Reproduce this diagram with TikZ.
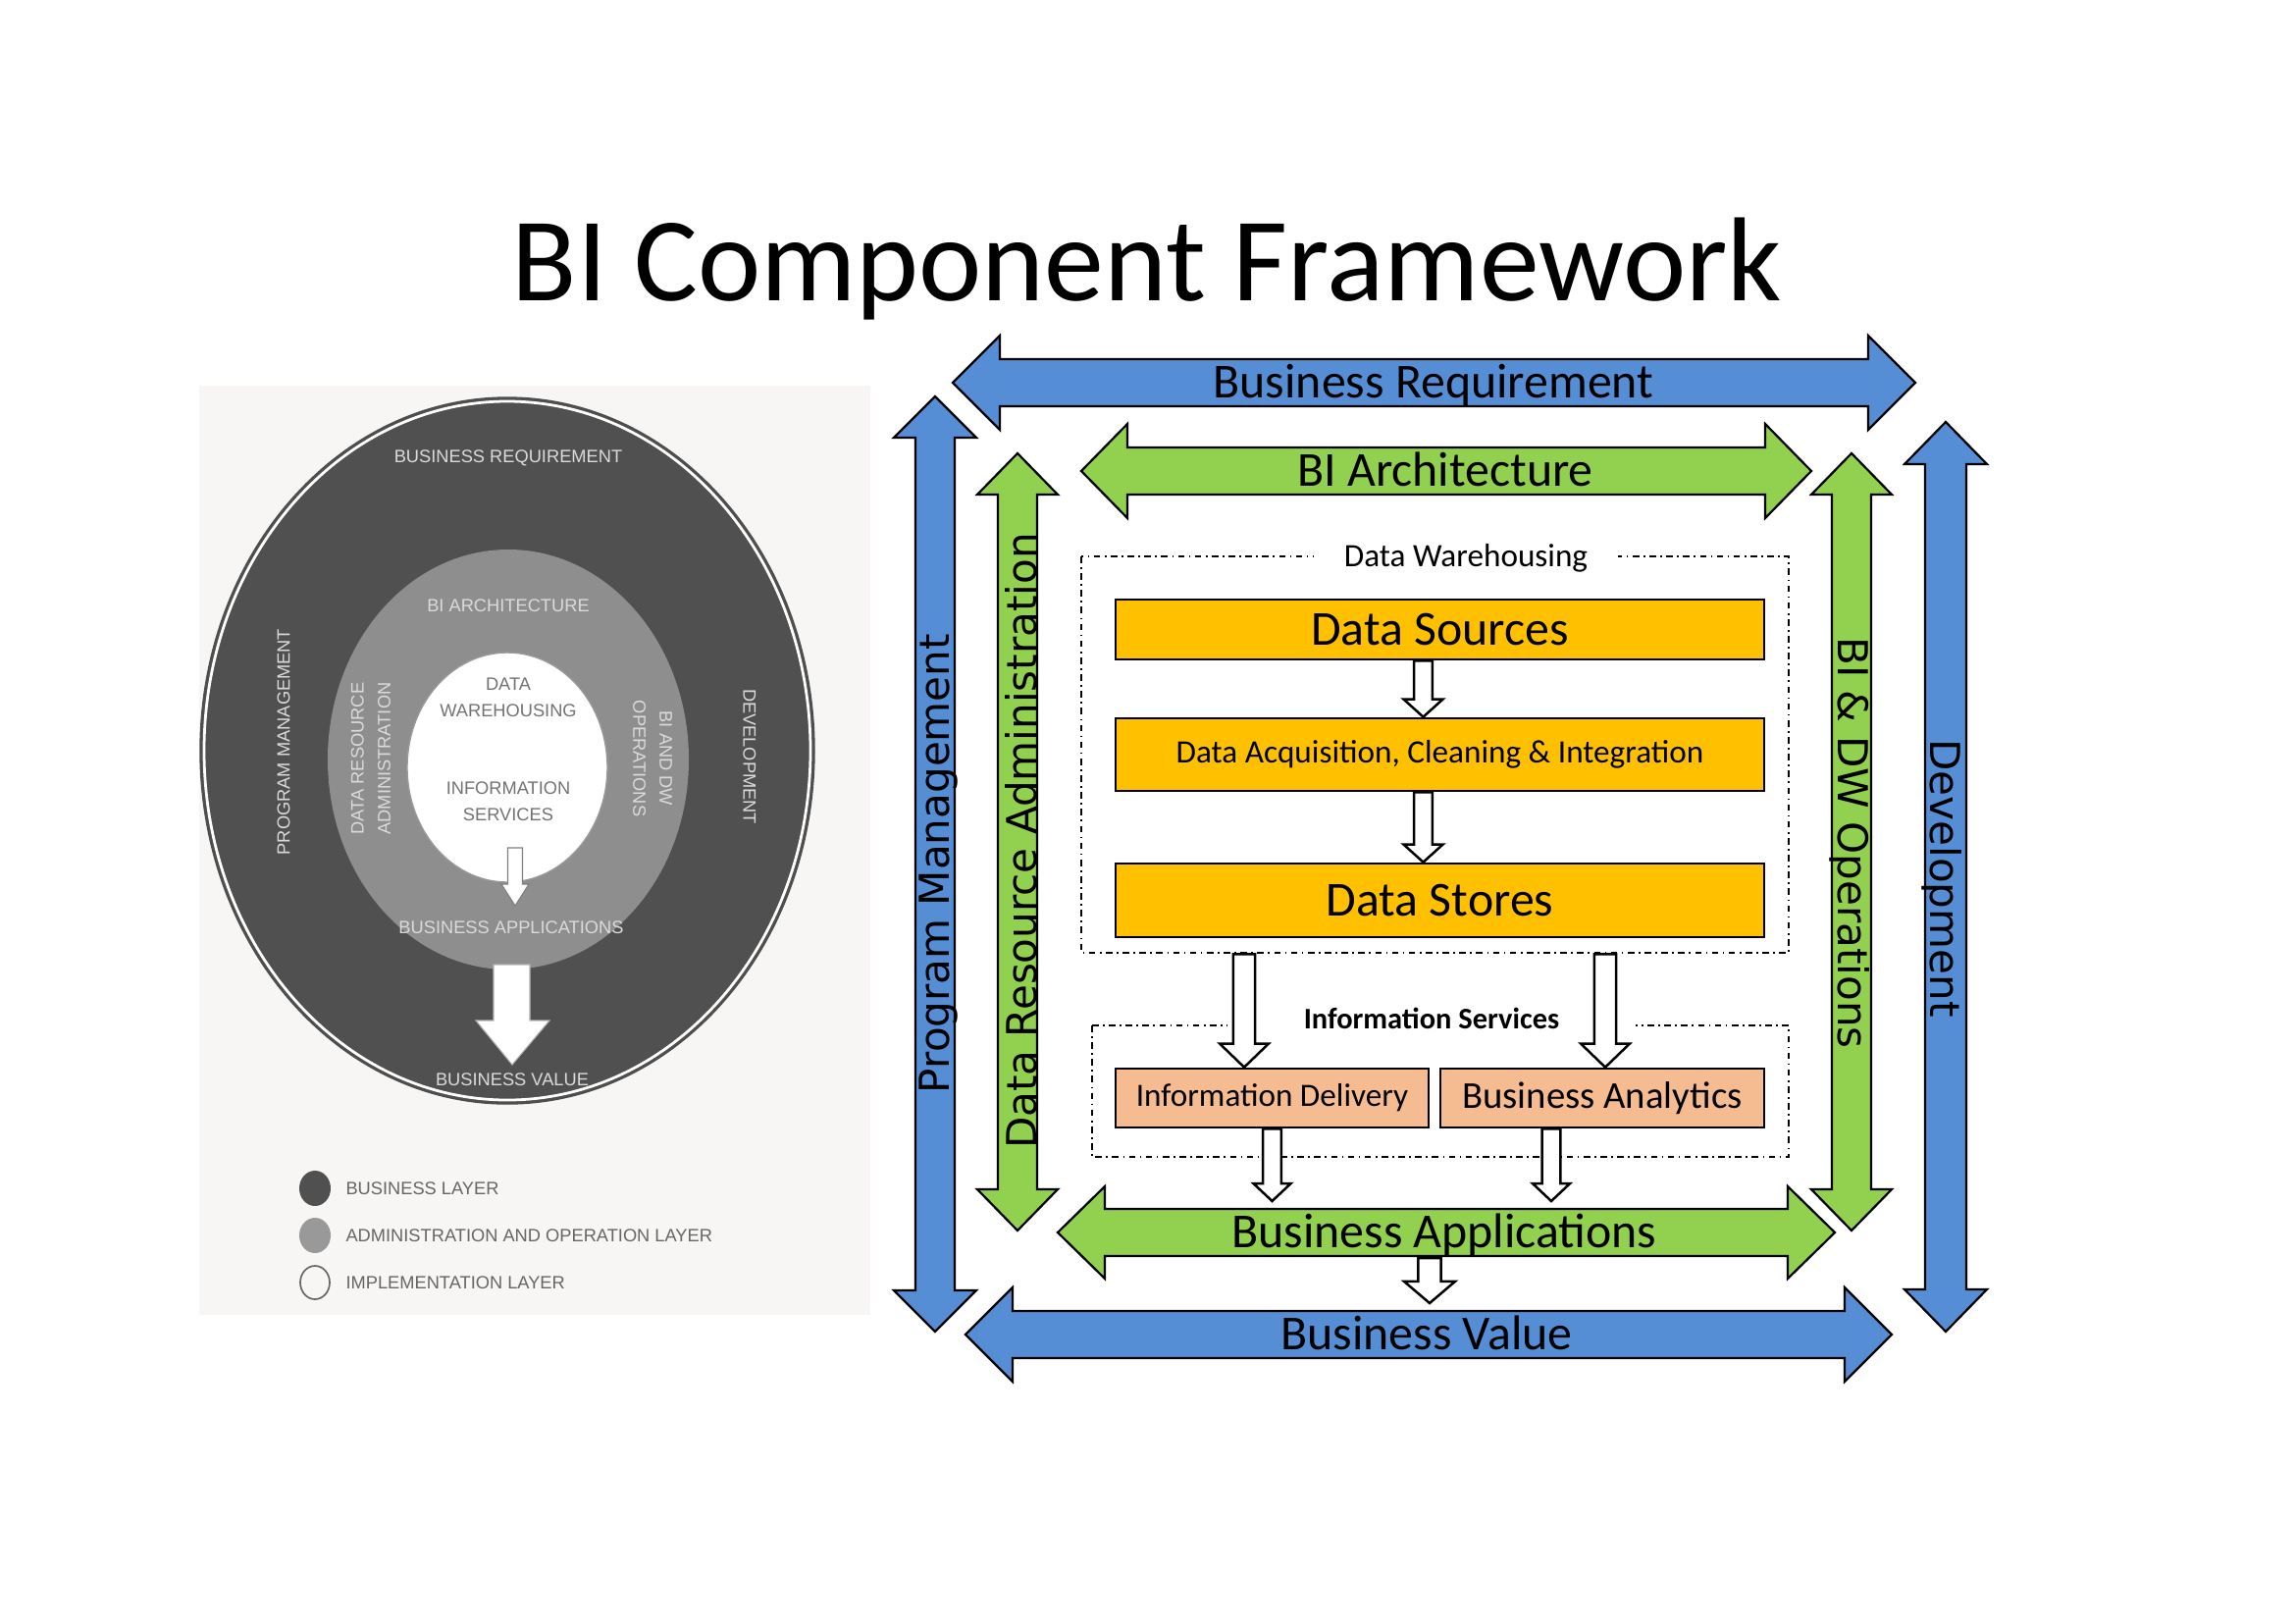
\documentclass[tikz,border=0pt]{standalone}
\usepackage{fontspec}
\setmainfont{Carlito}
\newfontfamily\vfont{DejaVu Sans}
\newfontfamily\scanfont{Liberation Sans}
\usetikzlibrary{calc}

\definecolor{arrblue}{HTML}{558ED5}
\definecolor{arrgreen}{HTML}{92D050}
\definecolor{boxyellow}{HTML}{FFC000}
\definecolor{boxpeach}{HTML}{F6BC91}
\definecolor{scanbg}{HTML}{F7F6F4}
\definecolor{scandark}{HTML}{505050}
\definecolor{scanmid}{HTML}{8E8E8E}
\definecolor{scantext}{HTML}{DADADA}

\newcommand\pxu{0.127mm}
\newcommand\fsz[2]{\fontsize{#1}{#2}\selectfont}

% style, left tip, right tip, y, head length, shaft half, head half
\newcommand\fwharrow[7]{%
  \draw[#1] (#2,#4) -- (#2+#5,#4-#7) -- (#2+#5,#4-#6) -- (#3-#5,#4-#6) -- (#3-#5,#4-#7) -- (#3,#4)
    -- (#3-#5,#4+#7) -- (#3-#5,#4+#6) -- (#2+#5,#4+#6) -- (#2+#5,#4+#7) -- cycle;}
% style, x, top tip, bottom tip, head length, shaft half, head half
\newcommand\fwvarrow[7]{%
  \draw[#1] (#2,#3) -- (#2+#7,#3+#5) -- (#2+#6,#3+#5) -- (#2+#6,#4-#5) -- (#2+#7,#4-#5) -- (#2,#4)
    -- (#2-#7,#4-#5) -- (#2-#6,#4-#5) -- (#2-#6,#3+#5) -- (#2-#7,#3+#5) -- cycle;}
% from, to, shaft half, head half, head length
\newcommand\hollowdown[5]{%
  \draw[hollow] let \p1=#1, \p2=#2 in
    (\x1-#3,\y1) -- (\x1-#3,\y2+#5) -- (\x1-#4,\y2+#5) -- (\x1,\y2) -- (\x1+#4,\y2+#5)
    -- (\x1+#3,\y2+#5) -- (\x1+#3,\y1) -- cycle;}

\tikzset{
  bigarrow/.style={draw=black, line width=0.8pt, line join=miter},
  hollow/.style={draw=black, fill=white, line width=0.9pt},
  dashdot/.style={line width=0.6pt, dash pattern=on 2.4pt off 1.6pt on 0.6pt off 1.6pt},
  fwbox/.style 2 args={draw=black, line width=1pt, inner sep=0pt,
    minimum width=#1*\pxu, minimum height=#2*\pxu},
  scanlbl/.style={text=scantext, font=\scanfont\fsz{6.6pt}{9.8pt}, inner sep=0pt},
  legtext/.style={text=black!60, font=\scanfont\fsz{6.6pt}{9.8pt}, inner sep=0pt, anchor=west},
  vlabel/.style={font=\vfont\fsz{15.2pt}{18pt}, inner sep=0pt}
}

\begin{document}
\begin{tikzpicture}[x=0.127mm, y=-0.127mm]
\useasboundingbox (0,0) rectangle (2339,1654);
\fill[white] (0,0) rectangle (2339,1654);

\node[anchor=base] (title) at (1169,306) {\fsz{44pt}{50pt}BI Component Framework};

% scanned figure
\fill[scanbg] (203,393) rectangle (887,1340);
\fill[scandark] (517,765) ellipse [x radius=313, y radius=360];
\draw[white, line width=1pt] (517,765) ellipse [x radius=309, y radius=356];
\draw[black!70, line width=0.5pt] (517,765) ellipse [x radius=313, y radius=360];
\fill[scanmid] (518,774) ellipse [x radius=184, y radius=214];
\filldraw[fill=white, draw=black!40, line width=0.5pt] (517,782) ellipse [x radius=102, y radius=117];
\filldraw[fill=white, draw=black!50, line width=0.4pt] (517.5,864) -- (532.5,864) -- (532.5,901) -- (539,901)
  -- (525,923) -- (511,901) -- (517.5,901) -- cycle;
\filldraw[fill=white, draw=black!30, line width=0.4pt] (503,983) -- (540,983) -- (540,1040) -- (560,1040)
  -- (522,1085) -- (485,1040) -- (503,1040) -- cycle;

\node[scanlbl] (lbreq) at (518,467) {BUSINESS REQUIREMENT};
\node[scanlbl] (lbarch) at (518,617) {BI ARCHITECTURE};
\node[scanlbl, rotate=90] (lpm) at (289,756) {PROGRAM MANAGEMENT};
\node[scanlbl, rotate=-90] (ldev) at (764,771) {DEVELOPMENT};
\node[scanlbl, rotate=90, align=center] (ldra) at (378,773) {DATA RESOURCE\\ADMINISTRATION};
\node[scanlbl, rotate=-90, align=center] (lbidw) at (665,773) {BI AND DW\\OPERATIONS};
\node[scanlbl, text=black!55, align=center] (ldw) at (518,711) {DATA\\WAREHOUSING};
\node[scanlbl, text=black!55, align=center] (lis) at (518,817) {INFORMATION\\SERVICES};
\node[scanlbl] (lbapp) at (521,945) {BUSINESS APPLICATIONS};
\node[scanlbl] (lbval) at (522,1100) {BUSINESS VALUE};

\fill[scandark] (321,1211) ellipse [x radius=16, y radius=18];
\fill[black!40] (321,1259) ellipse [x radius=16, y radius=18];
\draw[black!60, line width=0.6pt] (321,1307) ellipse [x radius=15, y radius=17];
\node[legtext] (leg1) at (352,1211) {BUSINESS LAYER};
\node[legtext] (leg2) at (352,1259) {ADMINISTRATION AND OPERATION LAYER};
\node[legtext] (leg3) at (352,1307) {IMPLEMENTATION LAYER};

% framework
\fwharrow{bigarrow, fill=arrblue}{971}{1952}{390}{48}{24}{48}
\fwharrow{bigarrow, fill=arrgreen}{1102}{1846}{480}{47}{24}{48}
\fwvarrow{bigarrow, fill=arrblue}{953}{404}{1357}{42}{20}{42}
\fwvarrow{bigarrow, fill=arrgreen}{1037}{462}{1254}{42}{20}{41}
\fwvarrow{bigarrow, fill=arrgreen}{1887}{462}{1254}{42}{20}{41}
\fwvarrow{bigarrow, fill=arrblue}{1983}{430}{1357}{43}{21}{42}
\fwharrow{bigarrow, fill=arrgreen}{1078}{1870}{1256}{48}{24}{47}
\fwharrow{bigarrow, fill=arrblue}{984}{1928}{1360}{48}{24}{48}

\node[anchor=base] (breq) at (1461,405) {\fsz{18pt}{20pt}Business Requirement};
\node[anchor=base] (biarch) at (1473,495) {\fsz{18pt}{20pt}BI Architecture};
\node[anchor=base] (bapp) at (1472,1271) {\fsz{18pt}{20pt}Business Applications};
\node[anchor=base] (bval) at (1454,1375) {\fsz{18pt}{20pt}Business Value};
\node[vlabel, rotate=90] (pm) at (957,880) {Program Management};
\node[vlabel, rotate=90] (dra) at (1041,857) {Data Resource Administration};
\node[vlabel, rotate=-90] (bidw) at (1885,859) {BI \& DW Operations};
\node[vlabel, rotate=-90] (dev) at (1979,895) {Development};

\draw[dashdot] (1102,567) rectangle (1823,971);
\node[fill=white, inner xsep=11pt, inner ysep=1pt, anchor=base] (dwlbl) at (1494,577)
  {\fsz{12pt}{14pt}Data Warehousing};
\draw[dashdot] (1113,1045) rectangle (1823,1179);
\node[fill=white, inner xsep=28pt, inner ysep=1pt, anchor=base] (islbl) at (1459,1048)
  {\fsz{11pt}{13pt}\bfseries Information Services};

\node[fwbox={661}{61}, fill=boxyellow] (ds) at (1467.5,641.5) {\fsz{18pt}{20pt}Data Sources};
\node[fwbox={661}{74}, fill=boxyellow] (acq) at (1467.5,769)
  {\fsz{12pt}{14pt}Data Acquisition, Cleaning \& Integration};
\node[fwbox={661}{75}, fill=boxyellow] (stores) at (1467.5,917.5) {\fsz{18pt}{20pt}Data Stores};
\node[fwbox={319}{60}, fill=boxpeach] (idel) at (1296.5,1119) {\fsz{12pt}{14pt}Information Delivery};
\node[fwbox={330}{60}, fill=boxpeach] (bana) at (1633,1119) {\fsz{14pt}{16pt}Business Analytics};

\hollowdown{($(ds.south)+(-17,0)$)}{(acq.north)}{3.4pt}{7.2pt}{6.5pt}
\hollowdown{($(acq.south)+(-17,0)$)}{(stores.north)}{3.4pt}{7.2pt}{6.5pt}
\hollowdown{($(stores.south)+(-199.5,16)$)}{(idel.north)}{4pt}{9pt}{8.7pt}
\hollowdown{($(stores.south)+(168.5,16)$)}{(bana.north)}{4pt}{9pt}{8.7pt}
\hollowdown{(idel.south)}{($(bapp.base)+(0,-47)$)}{3.4pt}{6.9pt}{6.5pt}
\hollowdown{($(bana.south)+(-52,0)$)}{($(bapp.base)+(0,-47)$)}{3.4pt}{6.9pt}{6.5pt}
\hollowdown{($(bapp.base)+(-15,11)$)}{($(bval.base)+(0,-47)$)}{4.2pt}{9.4pt}{8pt}
\end{tikzpicture}
\end{document}
